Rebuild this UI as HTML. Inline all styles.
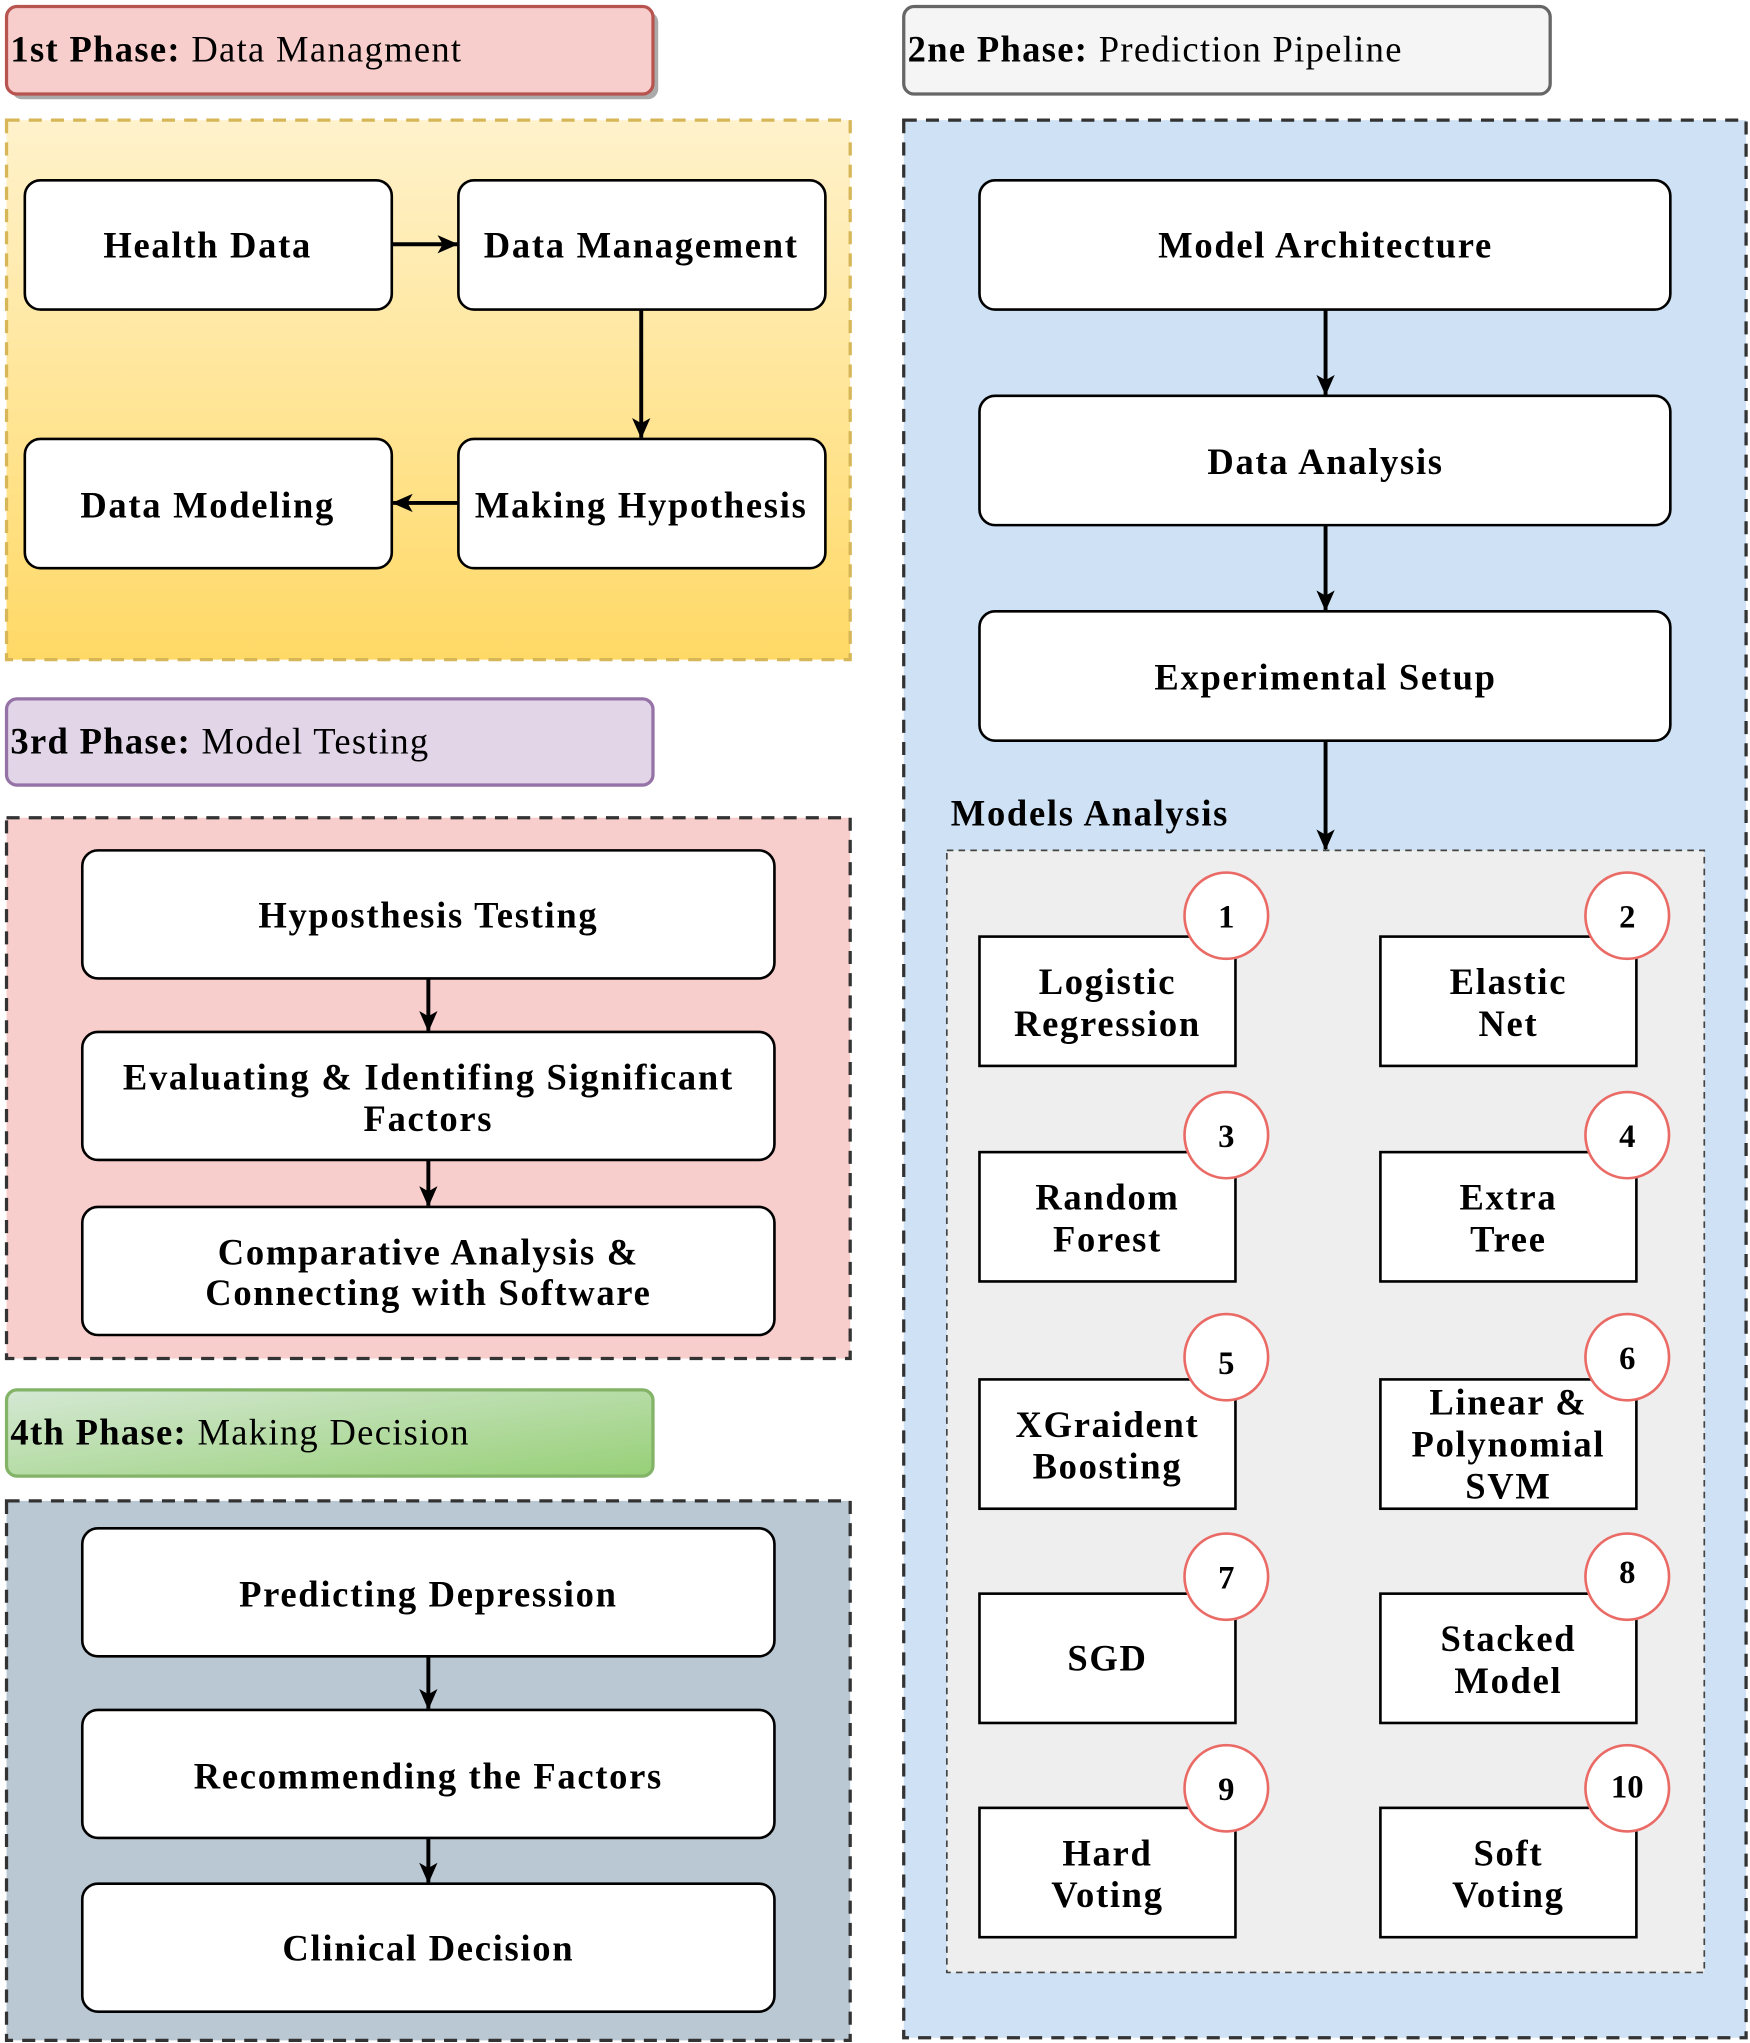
<!DOCTYPE html>
<html><head><meta charset="utf-8"><style>html,body{margin:0;padding:0;background:#fff}svg{display:block}</style></head>
<body>
<svg xmlns="http://www.w3.org/2000/svg" width="1750" height="2043" viewBox="0 0 1340 1564" preserveAspectRatio="none" font-family="'Liberation Serif', serif">
<defs>
<linearGradient id="gy" x1="0" y1="0" x2="0" y2="1"><stop offset="0" stop-color="#fff2cc"/><stop offset="1" stop-color="#ffd966"/></linearGradient>
<linearGradient id="gg" x1="0" y1="0" x2="1" y2="1"><stop offset="0" stop-color="#d5e8d4"/><stop offset="1" stop-color="#97d077"/></linearGradient>
<marker id="ah" markerWidth="16" markerHeight="16" refX="15" refY="8" orient="auto" markerUnits="userSpaceOnUse"><path d="M0,1 L16,8 L0,15 L4,8 z" fill="#000"/></marker>
</defs>
<g stroke-width="2.5">
<rect x="9" y="9" width="495" height="67" rx="8" fill="#aaa" stroke="none"/>
<rect x="5" y="5" width="495" height="67" rx="8" fill="#f8cecc" stroke="#b85450"/>
<rect x="692" y="5" width="495" height="67" rx="8" fill="#f5f5f5" stroke="#666"/>
<rect x="5" y="535" width="495" height="66" rx="8" fill="#e1d5e7" stroke="#9673a6"/>
<rect x="5" y="1064" width="495" height="66" rx="8" fill="url(#gg)" stroke="#82b366"/>
<rect x="5" y="92" width="646" height="413" fill="url(#gy)" stroke="#d6b656" stroke-dasharray="10 7"/>
<rect x="5" y="626" width="646" height="414" fill="#f8cecc" stroke="#333" stroke-dasharray="10 7"/>
<rect x="5" y="1149" width="646" height="413" fill="#bac8d3" stroke="#333" stroke-dasharray="10 7"/>
<rect x="692" y="92" width="645" height="1468" fill="#cfe2f5" stroke="#333" stroke-dasharray="10 7"/>
<rect x="725" y="651" width="580" height="859" fill="#eeeeee" stroke="#444" stroke-width="1.3" stroke-dasharray="5 4"/>
<g fill="#fff" stroke="#000" stroke-width="2">
<rect x="19" y="138" width="281" height="99" rx="12"/>
<rect x="351" y="138" width="281" height="99" rx="12"/>
<rect x="351" y="336" width="281" height="99" rx="12"/>
<rect x="19" y="336" width="281" height="99" rx="12"/>
<rect x="63" y="651" width="530" height="98" rx="12"/>
<rect x="63" y="790" width="530" height="98" rx="12"/>
<rect x="63" y="924" width="530" height="98" rx="12"/>
<rect x="63" y="1170" width="530" height="98" rx="12"/>
<rect x="63" y="1309" width="530" height="98" rx="12"/>
<rect x="63" y="1442" width="530" height="98" rx="12"/>
<rect x="750" y="138" width="529" height="99" rx="12"/>
<rect x="750" y="303" width="529" height="99" rx="12"/>
<rect x="750" y="468" width="529" height="99" rx="12"/>
<rect x="750" y="717" width="196" height="99"/><rect x="1057" y="717" width="196" height="99"/>
<rect x="750" y="882" width="196" height="99"/><rect x="1057" y="882" width="196" height="99"/>
<rect x="750" y="1056" width="196" height="99"/><rect x="1057" y="1056" width="196" height="99"/>
<rect x="750" y="1220" width="196" height="99"/><rect x="1057" y="1220" width="196" height="99"/>
<rect x="750" y="1384" width="196" height="99"/><rect x="1057" y="1384" width="196" height="99"/>
</g>
<g fill="#fff" stroke="#ea6b66" stroke-width="2">
<ellipse cx="939" cy="701" rx="32" ry="33"/><ellipse cx="1246" cy="701" rx="32" ry="33"/>
<ellipse cx="939" cy="869" rx="32" ry="33"/><ellipse cx="1246" cy="869" rx="32" ry="33"/>
<ellipse cx="939" cy="1039" rx="32" ry="33"/><ellipse cx="1246" cy="1039" rx="32" ry="33"/>
<ellipse cx="939" cy="1207" rx="32" ry="33"/><ellipse cx="1246" cy="1207" rx="32" ry="33"/>
<ellipse cx="939" cy="1369" rx="32" ry="33"/><ellipse cx="1246" cy="1369" rx="32" ry="33"/>
</g>
<g stroke="#000" stroke-width="3" marker-end="url(#ah)" fill="none">
<line x1="300" y1="187" x2="350" y2="187"/>
<line x1="491" y1="237" x2="491" y2="335"/>
<line x1="351" y1="385" x2="301" y2="385"/>
<line x1="328" y1="749" x2="328" y2="789"/>
<line x1="328" y1="888" x2="328" y2="923"/>
<line x1="328" y1="1268" x2="328" y2="1308"/>
<line x1="328" y1="1407" x2="328" y2="1441"/>
<line x1="1015" y1="237" x2="1015" y2="302"/>
<line x1="1015" y1="402" x2="1015" y2="467"/>
<line x1="1015" y1="567" x2="1015" y2="650"/>
</g>
</g>
<g font-size="28" fill="#000" letter-spacing="1">
<text x="8" y="47"><tspan font-weight="bold">1st Phase:</tspan> Data Managment</text>
<text x="695" y="47"><tspan font-weight="bold">2ne Phase:</tspan> Prediction Pipeline</text>
<text x="8" y="577"><tspan font-weight="bold">3rd Phase:</tspan> Model Testing</text>
<text x="8" y="1106"><tspan font-weight="bold">4th Phase:</tspan> Making Decision</text>
</g>
<g font-size="28" font-weight="bold" text-anchor="middle" fill="#000" letter-spacing="1.3">
<text x="159" y="197">Health Data</text>
<text x="491" y="197">Data Management</text>
<text x="491" y="396">Making Hypothesis</text>
<text x="159" y="396">Data Modeling</text>
<text x="328" y="710">Hyposthesis Testing</text>
<text x="328" y="834">Evaluating &amp; Identifing Significant</text>
<text x="328" y="866">Factors</text>
<text x="328" y="968">Comparative Analysis &amp;</text>
<text x="328" y="999">Connecting with Software</text>
<text x="328" y="1230">Predicting Depression</text>
<text x="328" y="1369">Recommending the Factors</text>
<text x="328" y="1501">Clinical Decision</text>
<text x="1015" y="197">Model Architecture</text>
<text x="1015" y="363">Data Analysis</text>
<text x="1015" y="528">Experimental Setup</text>
<text x="728" y="632" text-anchor="start">Models Analysis</text>
<text x="848" y="761">Logistic</text><text x="848" y="793">Regression</text>
<text x="1155" y="761">Elastic</text><text x="1155" y="793">Net</text>
<text x="848" y="926">Random</text><text x="848" y="958">Forest</text>
<text x="1155" y="926">Extra</text><text x="1155" y="958">Tree</text>
<text x="848" y="1100">XGraident</text><text x="848" y="1132">Boosting</text>
<text x="1155" y="1083">Linear &amp;</text><text x="1155" y="1115">Polynomial</text><text x="1155" y="1147">SVM</text>
<text x="848" y="1279">SGD</text>
<text x="1155" y="1264">Stacked</text><text x="1155" y="1296">Model</text>
<text x="848" y="1428">Hard</text><text x="848" y="1460">Voting</text>
<text x="1155" y="1428">Soft</text><text x="1155" y="1460">Voting</text>
</g>
<g font-size="25" font-weight="bold" text-anchor="middle" fill="#000">
<text x="939" y="710">1</text><text x="1246" y="710">2</text>
<text x="939" y="878">3</text><text x="1246" y="878">4</text>
<text x="939" y="1052">5</text><text x="1246" y="1048">6</text>
<text x="939" y="1216">7</text><text x="1246" y="1212">8</text>
<text x="939" y="1378">9</text><text x="1246" y="1376">10</text>
</g>
</svg>
</body></html>
